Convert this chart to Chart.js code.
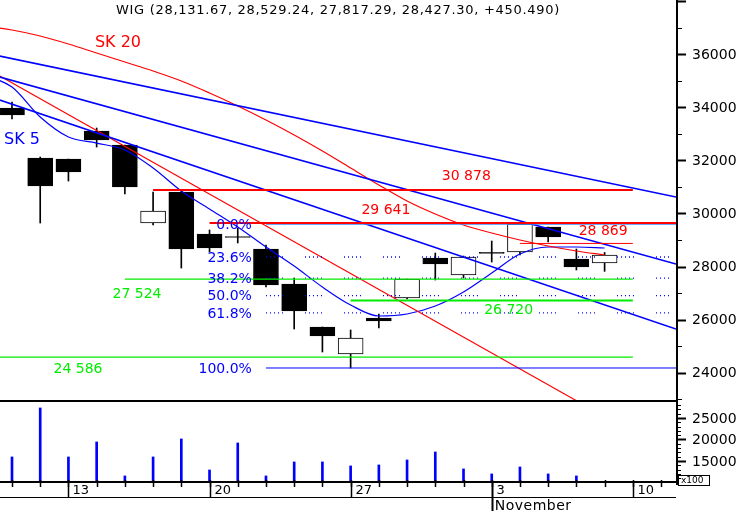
<!DOCTYPE html>
<html>
<head>
<meta charset="utf-8">
<script src="https://cdn.jsdelivr.net/npm/chart.js@4.4.1/dist/chart.umd.min.js"></script>
<style>
  body { margin: 0; background: #fff; }
  #wrap { width: 740px; height: 511px; }
</style>
</head>
<body>
<div id="wrap"><canvas id="chart" width="740" height="511"></canvas></div>
<script>
// WIG daily candles, 9 Oct - 7 Nov (axis runs to 11 Nov)
var dayNums = [9,10,13,14,15,16,17,20,21,22,23,24,27,28,29,30,31,3,4,5,6,7,10,11];
var weekStarts = [2,7,12,17,22];
var monthStarts = [17];
var monthNames = ['November'];

var opens  = [33969,32086,32048,33103,32575,29638,30806,29224,29130,28659,27341,25722,24705,26061,26814,28320,27680,28520,28546,29488,28282,28131.67];
var highs  = [34195,32124,32048,33216,32575,30806,30878,29375,29450,28810,27567,25722,25609,26211,27529,28508,28395,28960,29600,29488,28659,28529.24];
var lows   = [33555,29638,31220,32500,30730,29563,27943,28546,28885,27228,25646,24780,24177,25684,26776,27492,27567,28169,28433,28923,27868,27817.29];
var closes = [33705,31032,31559,32764,30994,30090,28659,28697,29092,27303,26324,25383,25307,25948,27524,28094,28358,28495,29601,29111,27981,28427.30];
// volume (x100), last session not shown
var volumes = [15930,27330,15930,19420,11510,15930,20120,12900,19190,11510,14770,14770,13840,14070,15230,17090,13140,11980,13600,11980,11510,null];

// moving averages, first value is the day before the first candle
var sk5  = [35212,34760,33630,32877,32650,32387,31709,30843,30165,29488,28734,28019,27228,26550,26136,26211,26512,27040,27755,28471,28734,28734,28697];
var sk20 = [37057,36907,36681,36380,36041,35702,35363,34986,34534,34045,33517,32952,32350,31710,31070,30467,29977,29563,29262,28998,28772,28584,28433];

// trend lines: [from day, price, to day, price]
var blueTrends = [[-0.43,35927,23.53,30617],[-0.43,35137,23.53,28094],[-0.43,34270,23.53,25646]];
var redTrend = [-0.43,35174,20.02,22935];

// horizontal levels
var redLevels = [30878, 29641, 28869];
var redFrom = [5, 7, 18];
var redTo = [22, 23.53, 22];
var greenLevels = [27524, 26720, 24586];
var greenFrom = [4, 12, -0.43];
var greenTo = [22, 22, 22];

var fibNames = ['0.0%','23.6%','38.2%','50.0%','61.8%','100.0%'];
var fibPrices = [29600, 28358, 27560, 26900, 26250, 24177];
var fibFrom = 9;
var fibTo = [23.53, 23.3, 23.3, 23.3, 23.3, 23.53];

var priceLabels = [24000,26000,28000,30000,32000,34000,36000];
var volLabels = [15000,20000,25000];

var title = 'WIG (28,131.67, 28,529.24, 27,817.29, 28,427.30, +450.490)';

var RED = '#ff0000', GREEN = '#00ec00', BLUE = '#0000ff';

function seg(a) { return [{x: a[0], y: a[1]}, {x: a[2], y: a[3]}]; }

function lineSet(points, color, width, dash, smooth) {
  return {
    type: 'line', data: points, borderColor: color, borderWidth: width,
    borderDash: dash || [], pointRadius: 0, fill: false,
    cubicInterpolationMode: smooth ? 'monotone' : 'default', tension: 0,
    yAxisID: 'y', order: 0
  };
}

var datasets = [];

// candles
datasets.push({
  type: 'bar', yAxisID: 'y', order: 3, grouped: false,
  data: highs.map(function (h, i) { return {x: i, y: [lows[i], h]}; }),
  backgroundColor: '#000', barThickness: 1
});
datasets.push({
  type: 'bar', yAxisID: 'y', order: 2, grouped: false,
  data: opens.map(function (o, i) { return {x: i, y: [o, closes[i]]}; }),
  backgroundColor: opens.map(function (o, i) { return closes[i] > o ? '#fff' : '#000'; }),
  borderColor: '#000', borderWidth: 1, borderSkipped: false,
  barThickness: 25, minBarLength: 1
});

// volume
datasets.push({
  type: 'bar', yAxisID: 'yv', order: 2, grouped: false,
  data: volumes.map(function (v, i) { return {x: i, y: v}; }),
  backgroundColor: BLUE, barThickness: 2
});

// levels
redLevels.forEach(function (v, k) {
  datasets.push(lineSet(seg([redFrom[k], v, redTo[k], v]), RED, k == 2 ? 1 : 2));
});
greenLevels.forEach(function (v, k) {
  datasets.push(lineSet(seg([greenFrom[k], v, greenTo[k], v]), GREEN, k == 1 ? 2 : 1.3));
});
fibPrices.forEach(function (v, k) {
  if (k == 0) {
    datasets.push(lineSet(seg([fibFrom, v, fibTo[k], v]), '#3a8cff', 1.5));
  } else if (k == fibPrices.length - 1) {
    datasets.push(lineSet(seg([fibFrom, v, fibTo[k], v]), BLUE, 1));
  } else {
    datasets.push(lineSet(seg([fibFrom, v, fibTo[k], v]), BLUE, 1.3, [1,3,1,3,1,3,1,3,1,22]));
  }
});

// trend lines
blueTrends.forEach(function (t) { datasets.push(lineSet(seg(t), BLUE, 1.6)); });
datasets.push(lineSet(seg(redTrend), RED, 1.2));

// moving averages
datasets.push(lineSet(sk20.map(function (v, k) { return {x: k - 1, y: v}; }), RED, 1.2, null, true));
datasets.push(lineSet(sk5.map(function (v, k) { return {x: k - 1, y: v}; }), BLUE, 1.2, null, true));

function fmtLevel(v) {
  var s = String(v);
  return s.slice(0, s.length - 3) + ' ' + s.slice(-3);
}

function hline(ctx, x1, y1, x2, y2) {
  ctx.beginPath(); ctx.moveTo(x1, y1); ctx.lineTo(x2, y2); ctx.stroke();
}

var decor = {
  id: 'decor',
  afterDraw: function (chart) {
    var ctx = chart.ctx, a = chart.chartArea;
    var sx = chart.scales.x, sy = chart.scales.y, sv = chart.scales.yv;
    ctx.save();
    ctx.strokeStyle = '#000';
    ctx.fillStyle = '#000';

    // frame
    ctx.lineWidth = 2;
    hline(ctx, a.left, Math.round(sy.bottom), a.right, Math.round(sy.bottom));
    hline(ctx, a.left, a.bottom, a.right, a.bottom);
    hline(ctx, a.right + 1, 0, a.right + 1, a.bottom + 3);

    // price axis ticks
    ctx.textBaseline = 'middle';
    ctx.textAlign = 'left';
    ctx.font = '14px "DejaVu Sans"';
    for (var v = 23000; v <= 38000; v += 1000) {
      var py = Math.round(sy.getPixelForValue(v)) + 0.5;
      var major = v % 2000 == 0;
      ctx.lineWidth = major ? 2 : 1;
      hline(ctx, a.right + 1, py, a.right + (major ? 10 : 6), py);
    }
    priceLabels.forEach(function (v) {
      ctx.fillText(String(v), a.right + 16, sy.getPixelForValue(v) + 1);
    });

    // volume axis ticks
    for (var w = 11000; w <= 28000; w += 1000) {
      var vy = Math.round(sv.getPixelForValue(w)) + 0.5;
      var big = w % 5000 == 0;
      ctx.lineWidth = big ? 2 : 1;
      hline(ctx, a.right + 1, vy, a.right + (big ? 10 : 5), vy);
    }
    volLabels.forEach(function (v) {
      ctx.fillText(String(v), a.right + 16, sv.getPixelForValue(v) + 1);
    });
    ctx.lineWidth = 1;
    ctx.strokeRect(a.right + 2.5, a.bottom - 6.5, 31, 10);
    ctx.font = '9px "DejaVu Sans"';
    ctx.fillText('x100', a.right + 5, a.bottom - 1);

    // x axis
    ctx.lineWidth = 1.5;
    for (var i = 0; i < dayNums.length; i++) {
      var dx = Math.round(sx.getPixelForValue(i)) + 0.5;
      hline(ctx, dx, a.bottom - 2, dx, a.bottom + 5);
    }
    ctx.lineWidth = 1;
    hline(ctx, a.left, a.bottom + 15.5, a.right, a.bottom + 15.5);
    ctx.font = '13px "DejaVu Sans"';
    weekStarts.forEach(function (i) {
      var dx = Math.round(sx.getPixelForValue(i)) + 0.5;
      var isMonth = monthStarts.indexOf(i) >= 0;
      ctx.lineWidth = isMonth ? 2 : 1.5;
      hline(ctx, dx, a.bottom, dx, isMonth ? 511 : a.bottom + 15);
      ctx.fillText(String(dayNums[i]), dx + 4, a.bottom + 9);
    });
    ctx.font = '14px "DejaVu Sans"';
    ctx.letterSpacing = '0.5px';
    monthStarts.forEach(function (i, k) {
      ctx.fillText(monthNames[k], sx.getPixelForValue(i) + 3, a.bottom + 24);
    });

    // title
    ctx.textAlign = 'center';
    ctx.font = '13px "DejaVu Sans"';
    ctx.letterSpacing = '0.7px';
    ctx.fillText(title, (a.left + a.right) / 2, 11);
    ctx.letterSpacing = '0px';

    // series names
    ctx.textAlign = 'left';
    ctx.font = '16px "DejaVu Sans"';
    ctx.fillStyle = RED;
    ctx.fillText('SK 20', sx.getPixelForValue(2.94), sy.getPixelForValue(36417));
    ctx.fillStyle = BLUE;
    ctx.fillText('SK 5', sx.getPixelForValue(-0.28), sy.getPixelForValue(32764));

    // level labels
    ctx.font = '14px "DejaVu Sans"';
    ctx.textAlign = 'center';
    var redPos = [[16.1, -14], [13.25, -13], [20.95, -12]];
    redLevels.forEach(function (v, k) {
      ctx.fillStyle = RED;
      ctx.fillText(fmtLevel(v), sx.getPixelForValue(redPos[k][0]), sy.getPixelForValue(v) + redPos[k][1]);
    });
    var greenPos = [[4.43, 15], [17.6, 10], [2.34, 12]];
    greenLevels.forEach(function (v, k) {
      ctx.fillStyle = GREEN;
      ctx.fillText(fmtLevel(v), sx.getPixelForValue(greenPos[k][0]), sy.getPixelForValue(v) + greenPos[k][1]);
    });

    // fibonacci labels
    ctx.textAlign = 'right';
    ctx.fillStyle = BLUE;
    fibNames.forEach(function (n, k) {
      ctx.fillText(n, sx.getPixelForValue(8.5), sy.getPixelForValue(fibPrices[k]) + 1);
    });

    ctx.restore();
  }
};

new Chart(document.getElementById('chart').getContext('2d'), {
  type: 'line',
  data: { datasets: datasets },
  options: {
    responsive: false,
    animation: false,
    layout: { padding: 0 },
    plugins: { legend: { display: false }, tooltip: { enabled: false } },
    scales: {
      x: {
        type: 'linear', min: -0.425, max: 23.53, offset: false,
        ticks: { display: false }, grid: { display: false }, border: { display: false },
        afterFit: function (s) { s.height = 29; }
      },
      y: {
        type: 'linear', position: 'right', stack: 'v', stackWeight: 401,
        min: 22934, max: 38038,
        ticks: { display: false }, grid: { display: false }, border: { display: false },
        afterFit: function (s) { s.width = 64; }
      },
      yv: {
        type: 'linear', position: 'right', stack: 'v', stackWeight: 81,
        min: 10100, max: 28950,
        ticks: { display: false }, grid: { display: false }, border: { display: false },
        afterFit: function (s) { s.width = 64; }
      }
    }
  },
  plugins: [decor]
});
</script>
</body>
</html>
